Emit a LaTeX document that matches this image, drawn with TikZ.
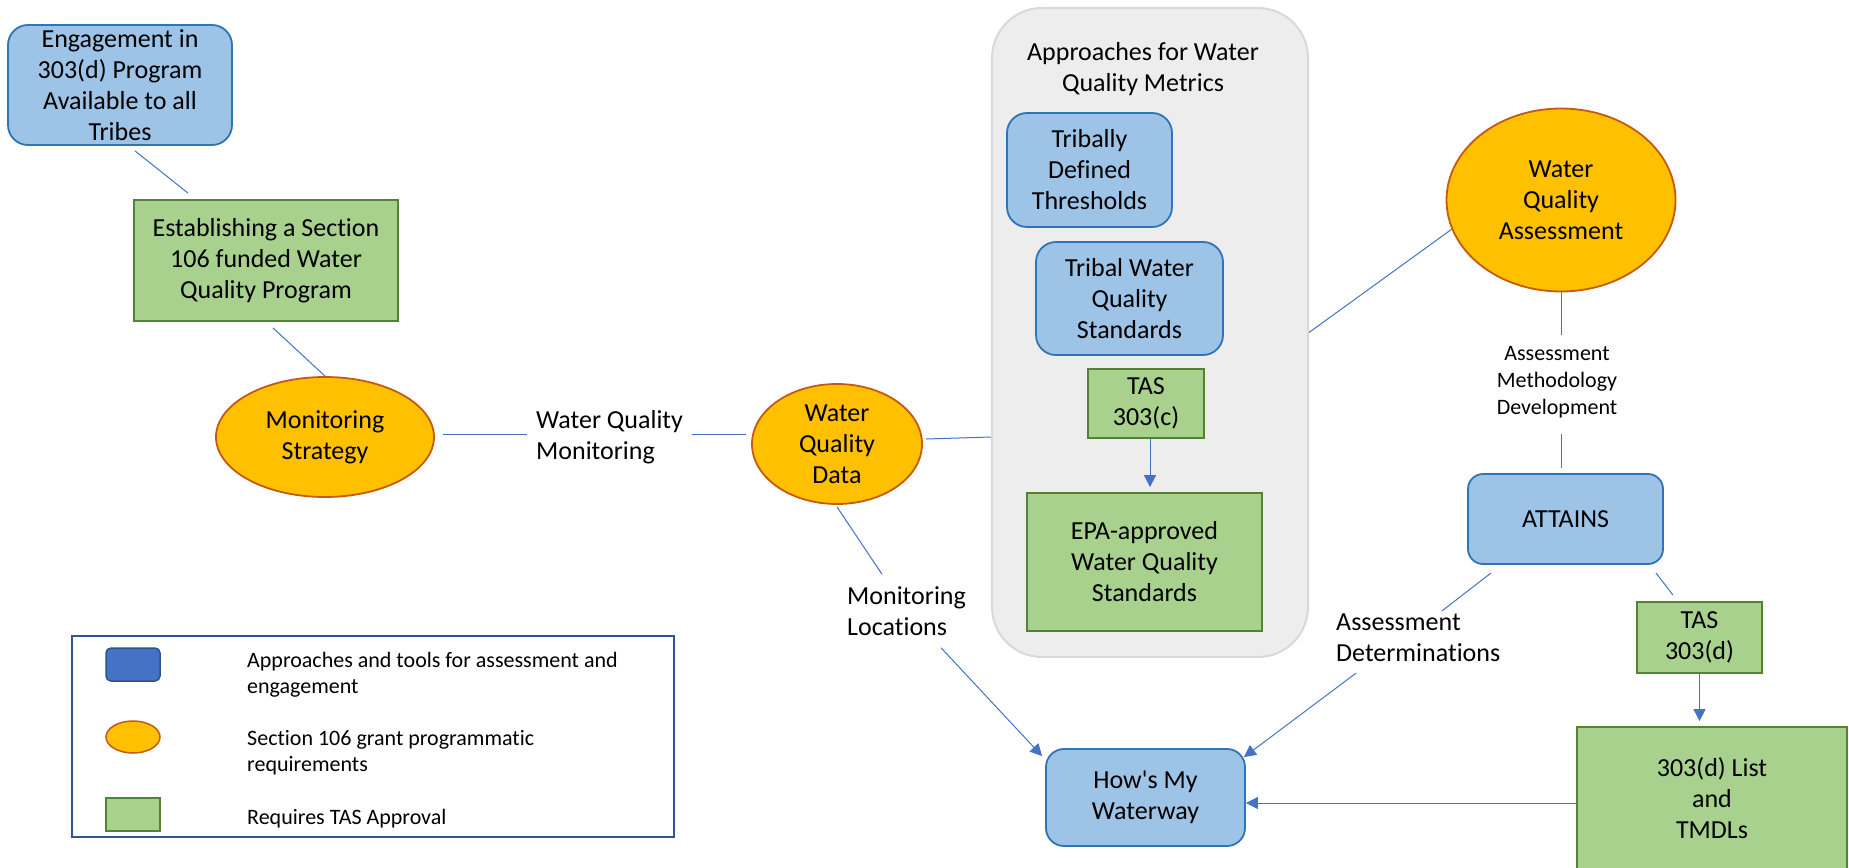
\documentclass[tikz,border=0pt]{standalone}
\usepackage{fontspec}
\setmainfont{Carlito}[Ligatures=CommonOff]
\newfontfamily\plaincarlito{Carlito}[Ligatures=CommonOff]
\usetikzlibrary{arrows.meta,shapes.geometric,calc}
\definecolor{bluefill}{HTML}{9DC3E6}
\definecolor{blueline}{HTML}{2E75B6}
\definecolor{greenfill}{HTML}{A9D18E}
\definecolor{greenline}{HTML}{548235}
\definecolor{orangefill}{HTML}{FFC000}
\definecolor{orangeline}{HTML}{C55A11}
\definecolor{greyfill}{HTML}{EDEDED}
\definecolor{greyline}{HTML}{D9D9D9}
\definecolor{conncol}{HTML}{4472C4}
\definecolor{legline}{HTML}{2F5597}
\definecolor{legblueline}{HTML}{2F528F}
\begin{document}
\begin{tikzpicture}[x=1pt,y=-1pt,
  txt/.style={font=\fontsize{26}{31}\selectfont, align=center, text=black, inner sep=0pt},
  smalltxt/.style={font=\fontsize{22}{27}\selectfont, align=center, text=black, inner sep=0pt},
  legtxt/.style={font=\fontsize{22}{26}\selectfont, align=left, text=black, inner sep=0pt, anchor=west},
  bluebox/.style={txt, draw=blueline, fill=bluefill, line width=1.8pt, rounded corners=#1},
  bluebox/.default=20pt,
  greenbox/.style={txt, draw=greenline, fill=greenfill, line width=1.8pt},
  orangeell/.style={txt, ellipse, draw=orangeline, fill=orangefill, line width=1.8pt},
  conn/.style={draw=conncol, line width=1pt},
  arr/.style={conn, -{Triangle[length=12pt,width=12pt]}}
]
\useasboundingbox (0,0) rectangle (1849,867);
\clip (0,0) rectangle (1849,867);

% left chain
\node[bluebox, minimum width=224pt, minimum height=120pt] (eng) at (120,85)
  {Engagement in\\303(d) Program\\Available to all\\Tribes};
\node[greenbox, minimum width=264pt, minimum height=121pt] (est) at (266,260.5)
  {Establishing a Section\\106 funded Water\\Quality Program};
\node[orangeell, minimum width=218pt, minimum height=120pt] (ms) at (325,437)
  {Monitoring\\Strategy};
\node[txt, align=left, anchor=west] (wqm) at (536,437) {Water Quality\\Monitoring};
\node[orangeell, minimum width=170pt, minimum height=120pt] (wqd) at (837,444)
  {Water\\Quality\\Data};
\node[txt, align=left, anchor=west] (ml) at (847,611) {Monitoring\\Locations};

% container
\node[draw=greyline, fill=greyfill, line width=2pt, rounded corners=50pt,
  minimum width=316pt, minimum height=649pt, inner sep=0pt] (cont) at (1150,332.5) {};
\node[txt] (title) at (1143,69) {Approaches for Water\\Quality Metrics};
\node[bluebox, minimum width=165pt, minimum height=114pt] (tdt) at (1089.5,170)
  {Tribally\\Defined\\Thresholds};
\node[bluebox, minimum width=187pt, minimum height=113pt] (twqs) at (1129.5,298.5)
  {Tribal Water\\Quality\\Standards};
\node[greenbox, minimum width=116pt, minimum height=69pt] (tas3c) at (1146,403.5)
  {TAS\\303(c)};
\node[greenbox, minimum width=235pt, minimum height=138pt] (epa) at (1144.5,562)
  {EPA-approved\\Water Quality\\Standards};

% bottom centre
\node[bluebox=18pt, minimum width=199pt, minimum height=97pt] (hmw) at (1145.5,797.5)
  {{\plaincarlito How's My}\\Waterway};

% right side
\node[orangeell, minimum width=229pt, minimum height=183pt] (wqa) at (1561,200)
  {Water\\Quality\\Assessment};
\node[smalltxt] (amd) at (1557,382) {Assessment\\Methodology\\Development};
\node[bluebox=15pt, minimum width=195pt, minimum height=90pt] (attains) at (1565.5,519)
  {ATTAINS};
\node[txt, align=left, anchor=west] (ad) at (1336,638) {Assessment\\Determinations};
\node[greenbox, minimum width=125pt, minimum height=71pt] (tas3d) at (1699.5,637.5)
  {TAS\\303(d)};
\node[greenbox, minimum width=270pt, minimum height=142pt] (list) at (1712,798)
  {303(d) List\\and\\TMDLs};

% legend
\node[draw=legline, line width=1.8pt, fill=white, minimum width=602pt, minimum height=201pt,
  inner sep=0pt] (legbox) at (373,736.5) {};
\node[draw=legblueline, fill=conncol, line width=1.5pt, rounded corners=5pt,
  minimum width=54pt, minimum height=33pt, inner sep=0pt] (legblue) at (133,664.5) {};
\node[ellipse, draw=orangeline, fill=orangefill, line width=1.5pt,
  minimum width=54pt, minimum height=32pt, inner sep=0pt] (legorange) at (133,737) {};
\node[draw=greenline, fill=greenfill, line width=1.5pt,
  minimum width=54pt, minimum height=33pt, inner sep=0pt] (leggreen) at (133,814.5) {};
\node[legtxt] (legt1) at (247,675) {Approaches and tools for assessment and\\engagement};
\node[legtxt] (legt2) at (247,753) {Section 106 grant programmatic\\requirements};
\node[legtxt] (legt3) at (247,819) {Requires TAS Approval};

% connectors
\draw[conn] ([xshift=15pt,yshift=-5pt]eng.south) -- ([xshift=-78pt,yshift=6pt]est.north);
\draw[conn] ([xshift=7pt,yshift=-6pt]est.south) -- (ms.north);
\draw[conn] ([xshift=8pt,yshift=3pt]ms.east) -- ([xshift=-9pt,yshift=3pt]wqm.west);
\draw[conn] ([xshift=9pt,yshift=3pt]wqm.east) -- ([xshift=-5pt,yshift=10pt]wqd.west);
\draw[conn] ([xshift=3pt,yshift=5pt]wqd.east) -- ([yshift=7pt]wqd.east -| cont.west);
\draw[conn] ([yshift=-2pt]wqd.south) -- ($(ml.north west)+(35,-12)$);
\draw[arr] ($(ml.south west)+(94,12)$) -- ($(hmw.north west)+(-3,8)$);
\draw[conn] (cont.east) -- (wqa.195);
\draw[conn, shorten >=11pt] (wqa.south) -- (wqa.south |- amd.north);
\draw[conn, shorten <=16pt, shorten >=5pt] (wqa.south |- amd.south) -- (wqa.south |- attains.north);
\draw[conn] ($(attains.south west)+(24,8)$) -- ($(ad.north west)+(106,-3)$);
\draw[arr] ($(ad.south west)+(20,11)$) -- ($(hmw.north east)+(-2,9)$);
\draw[conn] ($(attains.south east)+(-8,8)$) -- ($(tas3d.north)+(-26.5,-6)$);
\draw[arr, shorten >=5pt] (tas3d.south) -- (tas3d.south |- list.north);
\draw[arr] ([yshift=-5pt]list.west) -- ([yshift=-5pt]list.west -| hmw.east);
\draw[arr, shorten >=5pt] ([xshift=4pt]tas3c.south) -- ([xshift=4pt]tas3c.south |- epa.north);
\end{tikzpicture}
\end{document}
